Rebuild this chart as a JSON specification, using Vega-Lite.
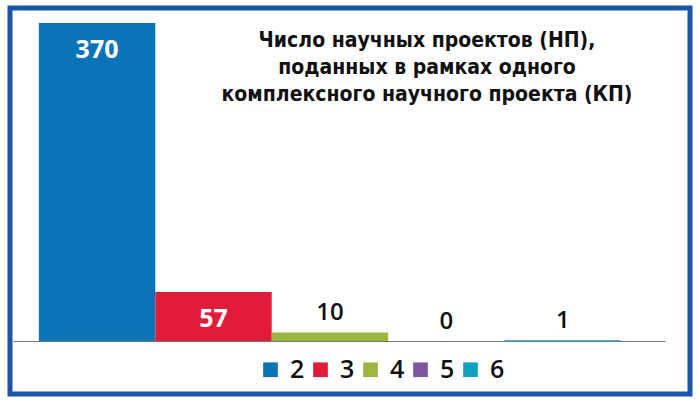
{
  "$schema": "https://vega.github.io/schema/vega-lite/v6.json",
  "width": 680,
  "height": 386,
  "autosize": {"type": "none"},
  "padding": {"left": 10, "top": 8, "right": 10, "bottom": 10},
  "background": "white",
  "config": {
    "view": {"stroke": "#1a55aa", "strokeWidth": 5},
    "font": "Open Sans"
  },
  "title": {
    "text": ["Число научных проектов (НП),", "поданных в рамках одного", "комплексного научного проекта (КП)"],
    "font": "DejaVu Sans Condensed, DejaVu Sans",
    "fontSize": 21,
    "fontWeight": "bold",
    "color": "#111111",
    "lineHeight": 27,
    "anchor": "middle",
    "frame": "group",
    "baseline": "alphabetic",
    "dx": 77,
    "dy": 118
  },
  "data": {
    "values": [
      {"n": "2", "count": 370},
      {"n": "3", "count": 57},
      {"n": "4", "count": 10},
      {"n": "5", "count": 0},
      {"n": "6", "count": 1}
    ]
  },
  "encoding": {
    "x": {
      "field": "n",
      "type": "nominal",
      "scale": {"range": [3, 655], "paddingInner": 0, "paddingOuter": 0.3, "align": 0.37},
      "axis": {"title": null, "labels": false, "ticks": false, "domainColor": "#777777", "domainWidth": 1.2, "offset": -53}
    },
    "y": {
      "field": "count",
      "type": "quantitative",
      "scale": {"domain": [0, 370], "range": [333, 15], "nice": false, "zero": true},
      "axis": null
    }
  },
  "layer": [
    {
      "mark": {"type": "bar", "stroke": null},
      "encoding": {
        "color": {
          "field": "n",
          "type": "nominal",
          "scale": {"domain": ["2", "3", "4", "5", "6"], "range": ["#0b74b9", "#e11c38", "#9cb63f", "#7c569f", "#12a0c3"]},
          "legend": {
            "title": null,
            "orient": "none",
            "direction": "horizontal",
            "legendX": 248,
            "legendY": 349,
            "symbolType": "square",
            "symbolSize": 215,
            "symbolStrokeWidth": 0,
            "symbolOpacity": 1,
            "labelFont": "Open Sans",
            "labelFontSize": 25,
            "labelFontWeight": 600,
            "labelColor": "#111111",
            "labelOffset": 7,
            "columnPadding": 3
          }
        }
      }
    },
    {
      "transform": [{"filter": "datum.count >= 50"}],
      "mark": {"type": "text", "baseline": "middle", "dy": 27, "fontSize": 25, "fontWeight": "bold", "color": "white"},
      "encoding": {"text": {"field": "count", "type": "quantitative"}}
    },
    {
      "transform": [{"filter": "datum.count < 50"}],
      "mark": {"type": "text", "baseline": "alphabetic", "dy": -12, "fontSize": 24, "fontWeight": 600, "color": "#111111"},
      "encoding": {"text": {"field": "count", "type": "quantitative"}}
    }
  ]
}
